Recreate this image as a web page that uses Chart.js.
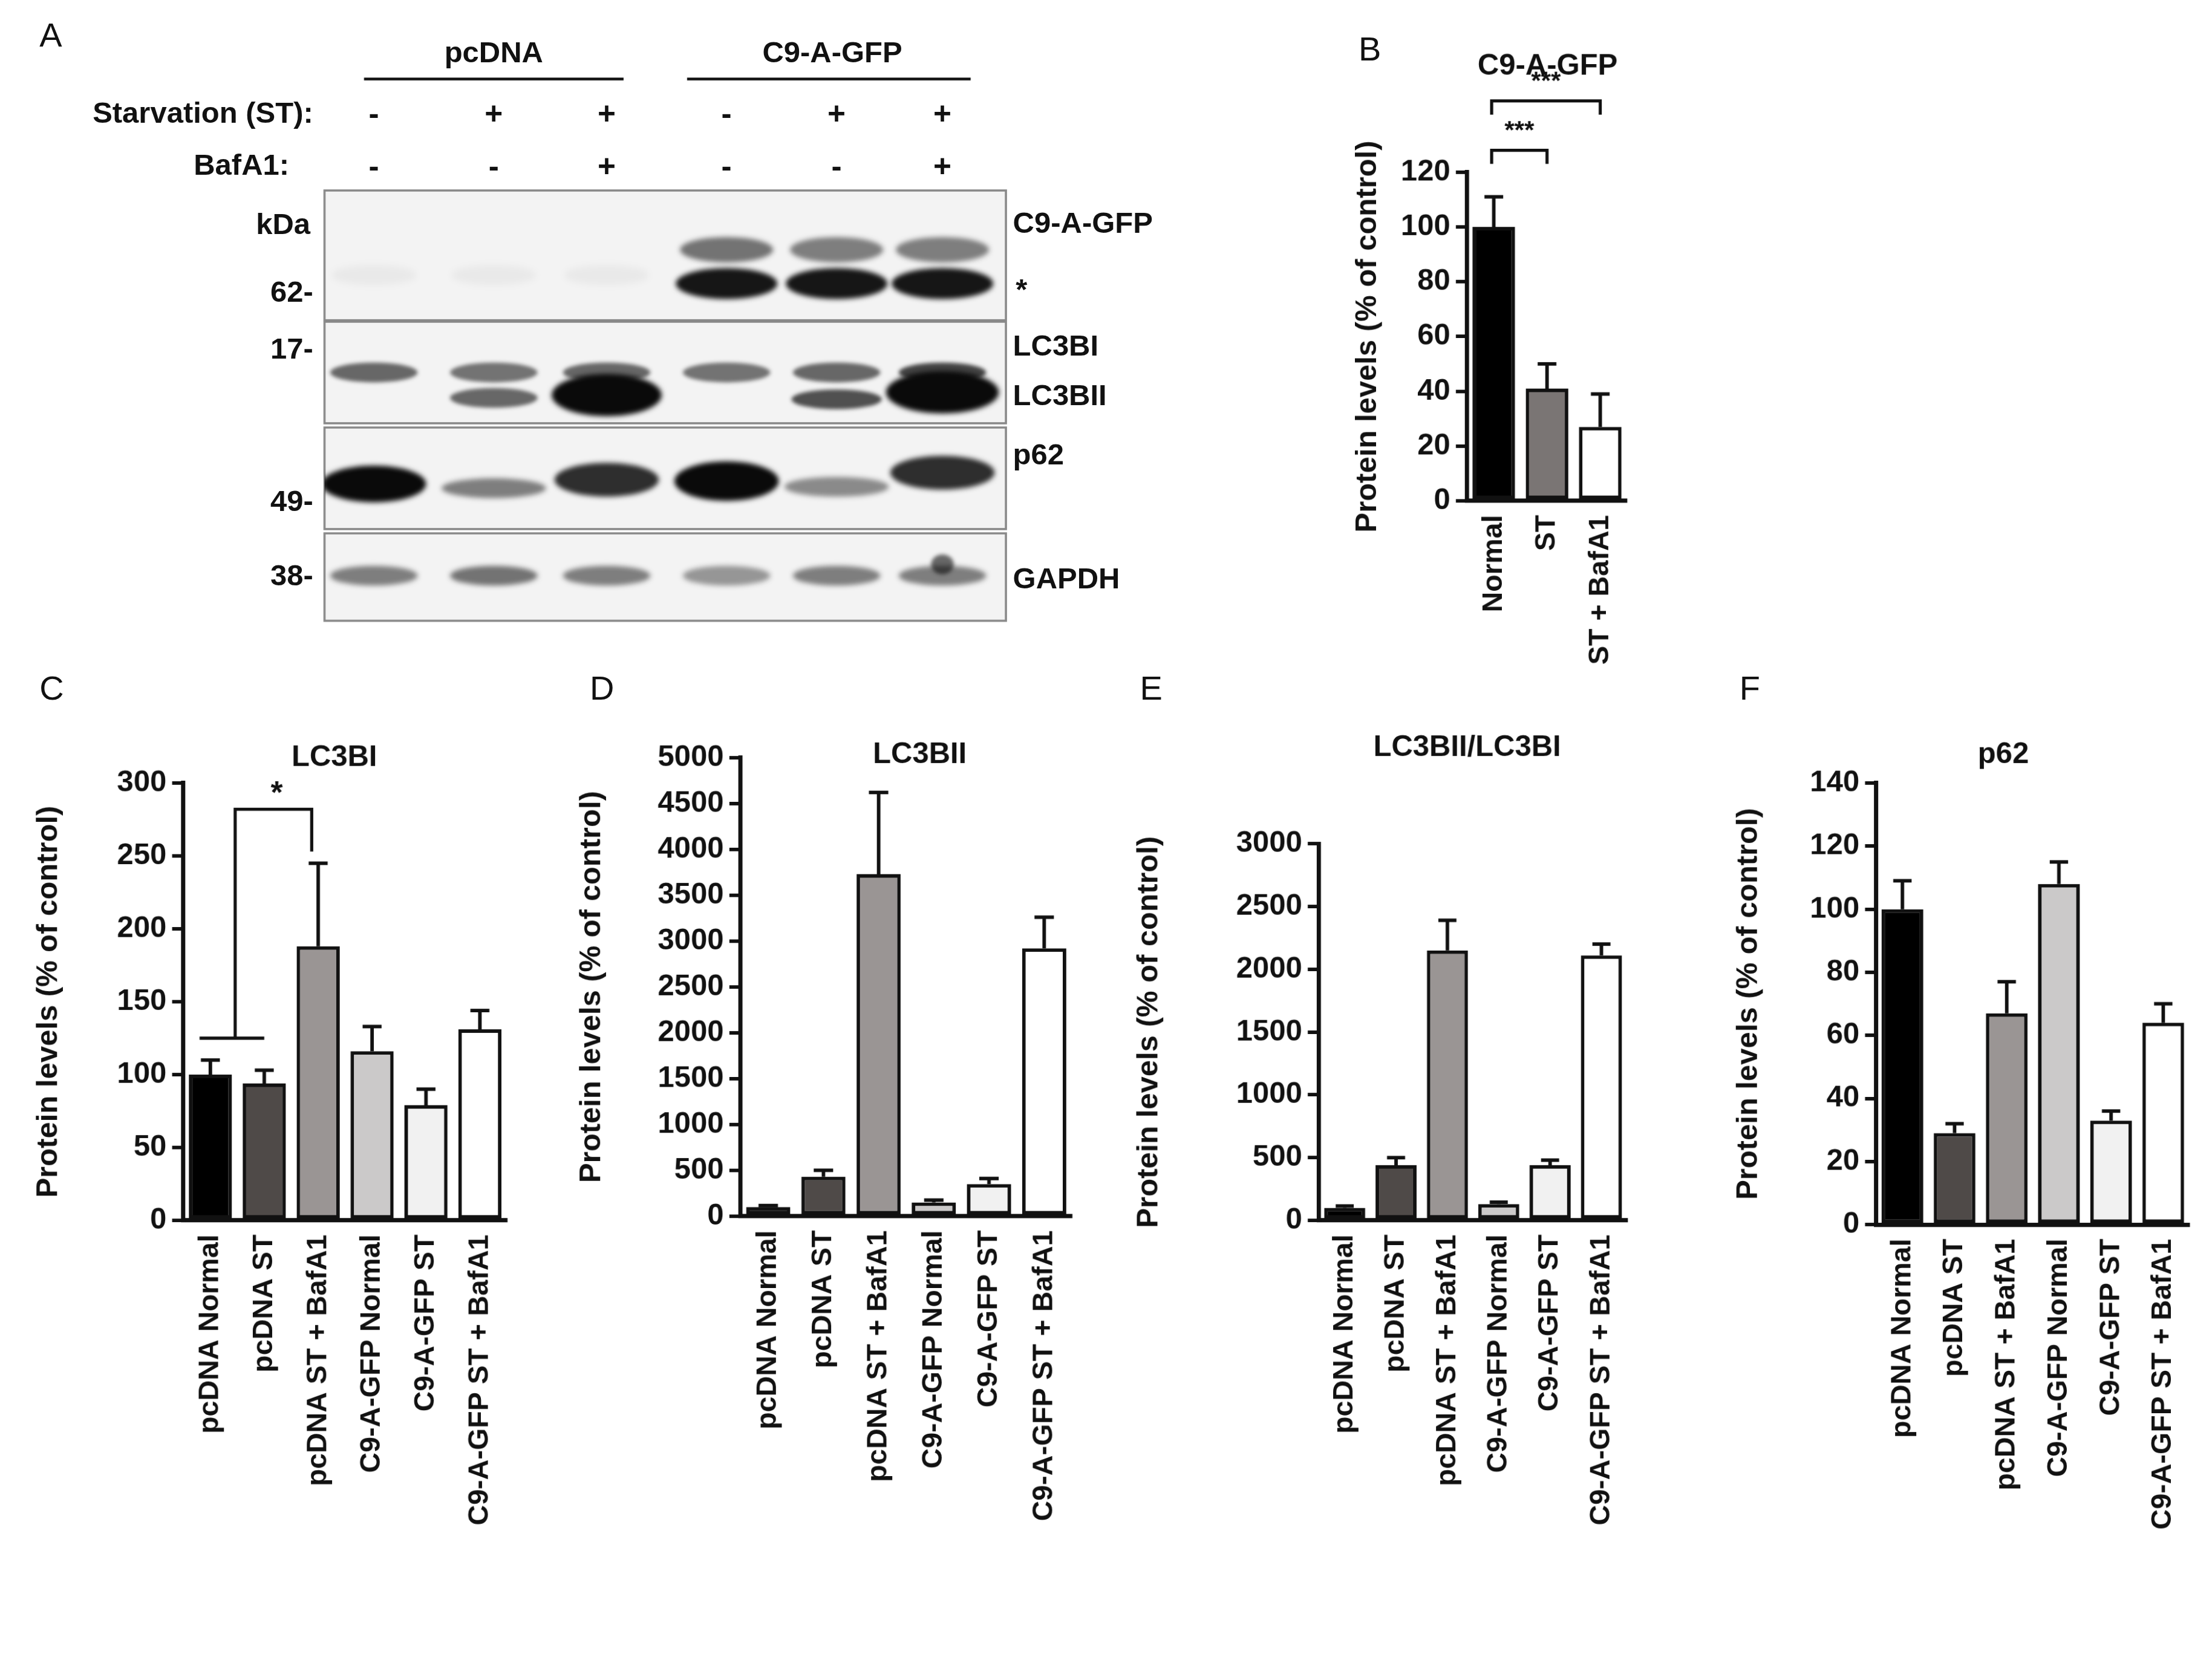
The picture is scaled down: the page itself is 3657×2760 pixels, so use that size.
<!DOCTYPE html>
<html><head><meta charset="utf-8">
<script src="https://cdn.jsdelivr.net/npm/chart.js@4.4.1/dist/chart.umd.min.js"></script>
<style>
html,body{margin:0;padding:0;background:#fff;overflow:hidden}
#root{position:absolute;left:0;top:0;width:1568px;height:1183px;transform-origin:0 0;transform:scale(2.3323,2.3331);font-family:"Liberation Sans",Arial,sans-serif}
.t{position:absolute;white-space:nowrap;color:#111}
.b{font-weight:bold}
canvas{position:absolute}
</style></head><body><div id="root"></div>
<script>
// ---------- data ----------
const catsB = ["Normal","ST","ST + BafA1"];
const valsB = [100,41,27];
const errB = [11,9,12];
const ticksB = [0,20,40,60,80,100,120];

const catsCF = ["pcDNA Normal","pcDNA ST","pcDNA ST + BafA1","C9-A-GFP Normal","C9-A-GFP ST","C9-A-GFP ST + BafA1"];
const valsC = [100,94,188,116,79,131];
const errC = [10,9,57,17,11,13];
const valsD = [100,430,3730,150,350,2920];
const errD = [15,70,890,25,60,340];
const valsE = [100,440,2150,130,440,2110];
const errE = [15,60,240,15,40,90];
const valsF = [100,29,67,108,33,64];
const errF = [9,3,10,7,3,6];

const colsCF = ["#000000","#4f4a48","#9a9594","#cbc9c9","#f1f1f1","#ffffff"];
const colsB = ["#000000","#7a7574","#ffffff"];

const lanes = ["-","+","+","-","+","+"];
const bafa = ["-","-","+","-","-","+"];

const S = 2.4;
const root = document.getElementById('root');
function txt(s,x,y,cls,size,align){
  const d=document.createElement('div');d.className='t '+(cls||'');d.textContent=s;
  d.style.fontSize=(size||20)+'px';d.style.top=(y-(size||20)*0.6)+'px';
  if(align==='r'){d.style.right=(1568-x)+'px';}
  else if(align==='c'){d.style.left=x+'px';d.style.transform='translateX(-50%)';}
  else d.style.left=x+'px';
  root.appendChild(d);return d;
}

// ---------- panel A: blot ----------
const bc=document.createElement('canvas');
bc.width=1568*S;bc.height=460*S;bc.style.width='1568px';bc.style.height='460px';bc.style.left='0';bc.style.top='0';
root.appendChild(bc);
const g=bc.getContext('2d');g.scale(S,S);
g.strokeStyle='#111';g.lineWidth=2;
g.beginPath();g.moveTo(258,56);g.lineTo(442,56);g.moveTo(487,56);g.lineTo(688,56);g.stroke();
const laneX=[265,350,430,515,593,668];
const rows=[[230,135,713,227],[230,228,713,300],[230,303,713,375],[230,378,713,440]];
rows.forEach(r=>{g.fillStyle='#f3f3f3';g.fillRect(r[0],r[1],r[2]-r[0],r[3]-r[1]);g.strokeStyle='#888';g.lineWidth=1.5;g.strokeRect(r[0],r[1],r[2]-r[0],r[3]-r[1]);});
function band(x,y,w,h,a,blur){
  g.save();g.filter='blur('+(blur||4)+'px)';g.fillStyle='rgba(10,10,10,'+a+')';
  g.beginPath();g.ellipse(x,y,w/2,h/2,0,0,Math.PI*2);g.fill();g.restore();
}
function clip(r,fn){g.save();g.beginPath();g.rect(r[0],r[1],r[2]-r[0],r[3]-r[1]);g.clip();fn();g.restore();}
clip(rows[0],()=>{
  [3,4,5].forEach((i,k)=>{band(laneX[i],177,66,18,[0.55,0.5,0.5][k],4);band(laneX[i],201,72,22,0.95,4);});
  [0,1,2].forEach(i=>band(laneX[i],195,60,14,0.04,6));
});
clip(rows[1],()=>{
  [0.6,0.55,0.6,0.55,0.6,0.75].forEach((a,i)=>band(laneX[i],264,62,14,a,3));
  band(laneX[1],282,62,14,0.6,3);band(laneX[2],280,78,30,1,4);
  band(laneX[4],283,64,14,0.7,3);band(laneX[5],278,80,30,1,4);
});
clip(rows[2],()=>{
  [[343,1,26],[346,0.5,14],[340,0.85,24],[341,1,28],[345,0.45,14],[335,0.85,24]].forEach((b,i)=>band(laneX[i],b[0],74,b[2],b[1],4));
});
clip(rows[3],()=>{
  [0.5,0.55,0.5,0.4,0.5,0.5].forEach((a,i)=>band(laneX[i],408,62,14,a,4));
  band(laneX[5],400,16,14,0.6,3);
});
txt("A",28,25,'',24);
txt("pcDNA",350,38,'b',21,'c');txt("C9-A-GFP",590,38,'b',21,'c');
txt("Starvation (ST):",222,81,'b',21,'r');txt("BafA1:",205,118,'b',21,'r');
laneX.forEach((x,i)=>{txt(lanes[i],x,81,'b',22,'c');txt(bafa[i],x,118,'b',22,'c');});
txt("kDa",220,160,'b',21,'r');txt("62-",222,208,'b',21,'r');txt("17-",222,248,'b',21,'r');
txt("49-",222,356,'b',21,'r');txt("38-",222,409,'b',21,'r');
txt("C9-A-GFP",718,159,'b',21);txt("*",720,206,'b',21);txt("LC3BI",718,246,'b',21);
txt("LC3BII",718,281,'b',21);txt("p62",718,323,'b',21);txt("GAPDH",718,411,'b',21);
txt("B",963,35,'',24);txt("C",28,488,'',24);txt("D",418,488,'',24);txt("E",808,488,'',24);txt("F",1233,488,'',24);

// ---------- bar charts ----------
const errPlugin={id:'err',afterDatasetsDraw(ch){
  const c=ch.ctx,ds=ch.data.datasets[0],meta=ch.getDatasetMeta(0),y=ch.scales.y,o=ch.options.plugins.err;
  c.save();c.strokeStyle='#111';c.lineWidth=2.5;
  meta.data.forEach((b,i)=>{const top=y.getPixelForValue(ds.data[i]+o.errs[i]);const cap=b.width*0.22;
    c.beginPath();c.moveTo(b.x,b.y);c.lineTo(b.x,top);c.moveTo(b.x-cap,top);c.lineTo(b.x+cap,top);c.stroke();});
  c.fillStyle='#111';c.font='bold 21px "Liberation Sans", Arial';c.textAlign='center';c.textBaseline='middle';
  c.fillText(o.title,o.tx,o.ty);
  (o.brackets||[]).forEach(br=>br(ch,c,meta,y));
  c.restore();
}};
function mk(L,T,W,H,px0,py0,px1,py1,cats,vals,errs,cols,max,step,title,tx,ty,brackets,ticks){
  const cv=document.createElement('canvas');cv.style.left=L+'px';cv.style.top=T+'px';
  cv.width=W;cv.height=H;cv.style.width=W+'px';cv.style.height=H+'px';root.appendChild(cv);
  new Chart(cv,{type:'bar',plugins:[errPlugin],
    data:{labels:cats,datasets:[{data:vals,backgroundColor:cols,borderColor:'#111',borderWidth:2.5,borderSkipped:false,barPercentage:0.8,categoryPercentage:1}]},
    options:{responsive:false,animation:false,devicePixelRatio:S,
      layout:{padding:{top:py0-T,right:L+W-px1,left:0,bottom:0}},
      plugins:{legend:{display:false},tooltip:{enabled:false},err:{errs,title,tx:tx-L,ty:ty-T,brackets}},
      scales:{
        x:{grid:{display:false,drawTicks:false},border:{color:'#111',width:3},
          ticks:{maxRotation:90,minRotation:90,color:'#111',padding:10,font:{family:'"Liberation Sans", Arial',weight:'bold',size:20}},
          afterFit(s){s.height=T+H-py1;}},
        y:{min:0,max:max,grid:{display:true,drawOnChartArea:false,color:'#111',lineWidth:2.5,tickLength:8},border:{color:'#111',width:3},
          ticks:{stepSize:step,color:'#111',padding:4,font:{family:'"Liberation Sans", Arial',weight:'bold',size:21},
            callback:v=>ticks?(ticks.includes(v)?v:''):v},
          title:{display:true,text:'Protein levels (% of control)',color:'#111',padding:2,font:{family:'"Liberation Sans", Arial',weight:'bold',size:21}},
          afterFit(s){s.width=px0-L;}}
      }}});
}
// bracket helpers
function bracketB(i,j,v,dv){return (ch,c,meta,y)=>{const yp=y.getPixelForValue(v),yd=y.getPixelForValue(v-dv);
  const x1=meta.data[i].x-meta.data[i].width*0.05,x2=meta.data[j].x;c.strokeStyle='#111';c.lineWidth=2.2;
  c.beginPath();c.moveTo(x1,yd);c.lineTo(x1,yp);c.lineTo(x2,yp);c.lineTo(x2,yd);c.stroke();
  c.font='bold 18px "Liberation Sans", Arial';c.fillText('***',(x1+x2)/2,y.getPixelForValue(v+7));};}
const bracketC=(ch,c,meta,y)=>{const a=meta.data[0],b=meta.data[1],d=meta.data[2];
  const yl=y.getPixelForValue(125),yt=y.getPixelForValue(282),yd=y.getPixelForValue(253);
  const xl=a.x-a.width*0.25,xr=b.x,xm=(a.x+b.x)/2-a.width*0.05;
  c.strokeStyle='#111';c.lineWidth=2.2;c.beginPath();c.moveTo(xl,yl);c.lineTo(xr,yl);c.moveTo(xm,yl);c.lineTo(xm,yt);c.lineTo(d.x-d.width*0.15,yt);c.lineTo(d.x-d.width*0.15,yd);c.stroke();
  c.font='bold 22px "Liberation Sans", Arial';c.fillText('*',(xm+d.x)/2,y.getPixelForValue(292));};

mk(955,20,215,500,1040,122,1160,355,catsB,valsB,errB,colsB,120,20,'C9-A-GFP',1097,47,[bracketB(0,1,128,5),bracketB(0,2,146,5)],ticksB);
mk(20,470,355,700,130,555,365,865,catsCF,valsC,errC,colsCF,300,50,'LC3BI',237,537,[bracketC]);
mk(405,470,370,700,525,537,765,862,catsCF,valsD,errD,colsCF,5000,500,'LC3BII',652,535,[]);
mk(800,470,370,700,935,598,1160,865,catsCF,valsE,errE,colsCF,3000,500,'LC3BII/LC3BI',1040,530,[]);
mk(1225,470,343,700,1330,555,1560,868,catsCF,valsF,errF,colsCF,140,20,'p62',1420,535,[]);
</script></body></html>
